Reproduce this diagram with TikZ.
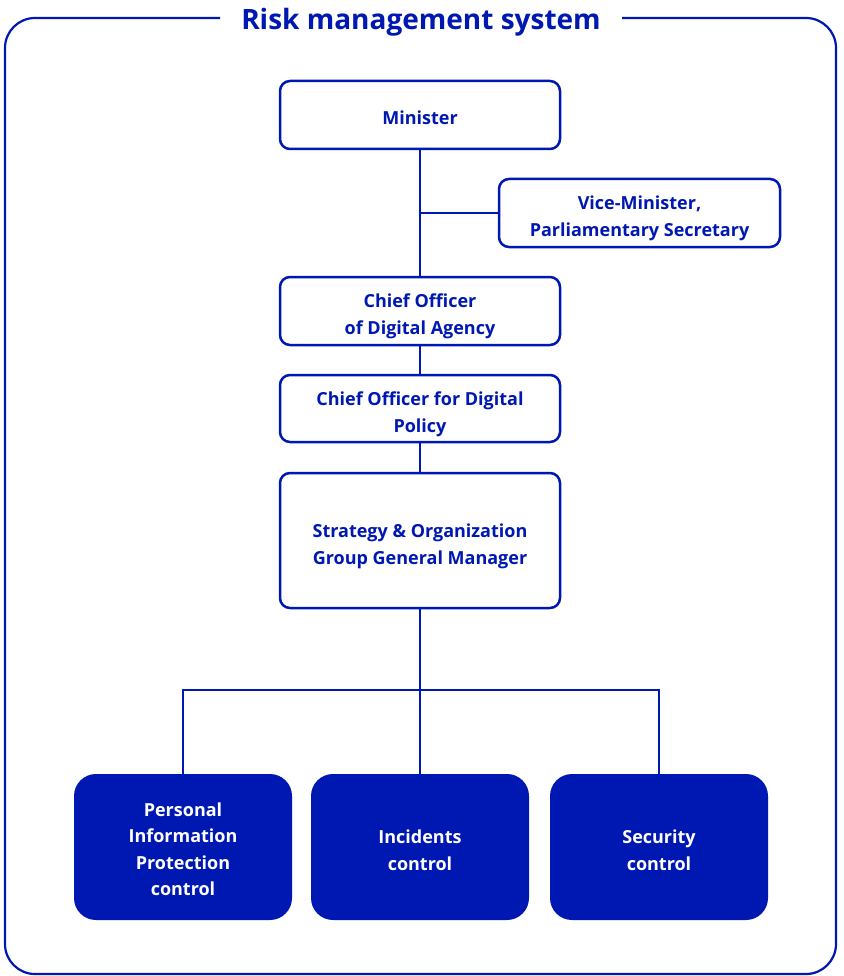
\documentclass[tikz,border=0pt]{standalone}
\usepackage{fontspec}
\setmainfont{Open Sans}
\usepackage{xcolor}
\usetikzlibrary{positioning}
\definecolor{riskblue}{RGB}{0,24,178}
\tikzset{
  post/.style={draw=riskblue,line width=2.5pt,rounded corners=10pt,fill=white,
    minimum width=280pt,minimum height=68pt,inner sep=0pt,align=center,
    text height=47.5pt,text depth=0pt,
    text=riskblue,font=\fontsize{18}{27}\selectfont\bfseries},
  unit/.style={fill=riskblue,rounded corners=22pt,minimum width=218pt,
    minimum height=146pt,inner sep=0pt,align=center,text=white,
    text height=46pt,text depth=0pt,
    font=\fontsize{18}{26.5}\selectfont\bfseries},
  link/.style={draw=riskblue,line width=2.5pt},
}

\begin{document}
\begin{tikzpicture}[x=1pt,y=-1pt]
\useasboundingbox (0,0) rectangle (843,976);
% frame and title
\draw[riskblue,line width=2.2pt,rounded corners=30pt](220,18)--(5,18)--(5,974)--(836,974)--(836,18)--(622,18);
\node[text=riskblue,font=\fontsize{28}{30}\selectfont\bfseries] (title) at (421,22) {Risk management system};
% posts
\node[post,text height=20pt] (minister) at (420,115) {Minister};
\node[post,minimum width=281pt] (vice) at (639.5,213) {Vice-Minister,\\Parliamentary Secretary};
\node[post] (agency) at (420,311) {Chief Officer\\of Digital Agency};
\node[post,minimum height=67pt] (policy) at (420,408.5) {Chief Officer for Digital\\Policy};
\node[post,minimum height=135pt] (strategy) at (420,540.5) {Strategy \& Organization\\Group General Manager};
% controls
\node[unit,text height=97pt] (pip) at (183,847) {Personal\\Information\\Protection\\control};
\node[unit] (incidents) at (420,847) {Incidents\\control};
\node[unit] (security) at (659,847) {Security\\control};
% connectors
\coordinate (bus) at (420,690);
\draw[link](minister)--(agency);
\draw[link](vice.west)--(vice.west -| minister);
\draw[link](agency)--(policy);
\draw[link](policy)--(strategy);
\draw[link](strategy.south)--(bus);
\draw[link](pip.north)|-(bus)-|(security.north);
\draw[link](bus)--(incidents.north);
\end{tikzpicture}
\end{document}
